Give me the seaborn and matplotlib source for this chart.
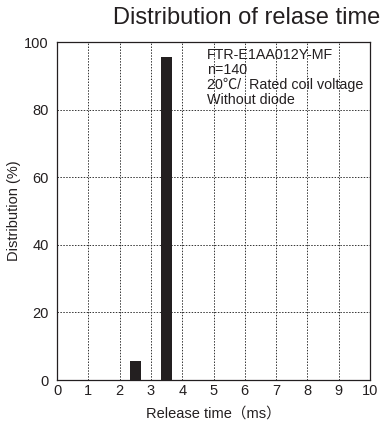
import matplotlib
matplotlib.use("Agg")
import matplotlib.pyplot as plt
import seaborn as sns
import pandas as pd

release_time = [2.5, 3.5]
distribution = [5.7, 95.7]
x_ticks = list(range(0, 11))
y_ticks = [0, 20, 40, 60, 80, 100]
title = "Distribution of relase time"
note_lines = ["FTR-E1AA012Y-MF", "n=140", "20℃/  Rated coil voltage", "Without diode"]

sns.set_theme(style="white")
plt.rcParams['font.family'] = ['Liberation Sans', 'Noto Sans CJK JP', 'DejaVu Sans']

df = pd.DataFrame({"t": release_time, "d": distribution})

fig = plt.figure(figsize=(3.83, 4.30), dpi=100)
ax = fig.add_axes([57/383, 50/430, 313/383, 338/430])

sns.barplot(data=df, x="t", y="d", native_scale=True, width=0.35,
            color="#231f20", saturation=1, ax=ax, edgecolor="none")

ax.set_xlim(0, 10)
ax.set_ylim(0, 100)
ax.set_xticks(x_ticks)
ax.set_xticklabels([str(v) for v in x_ticks], fontsize=10.5)
ax.set_yticks(y_ticks)
ax.set_yticklabels([str(v) for v in y_ticks], fontsize=10.5)
ax.tick_params(axis="y", length=0, pad=6, colors="#231f20")
ax.tick_params(axis="x", length=0, pad=3, colors="#231f20")

ax.grid(True, linestyle=(0, (1.5, 1.5)), color="#333333", linewidth=0.7)
ax.set_axisbelow(True)
for s in ax.spines.values():
    s.set_visible(True)
    s.set_color("#231f20")
    s.set_linewidth(0.9)

ax.set_xlabel("Release time（ms）", fontsize=10.5, color="#231f20", labelpad=6)
ax.set_ylabel("Distribution (%)", fontsize=10.5, color="#231f20", labelpad=2)

fig.text(380/383, 1 - 18/430, title, ha="right", va="center", fontsize=17, color="#231f20")

ax.text(4.79, 98.3, "\n".join(note_lines), ha="left", va="top", fontsize=10.3,
        color="#231f20", linespacing=1.1)

fig.savefig("out.png", dpi=100)
